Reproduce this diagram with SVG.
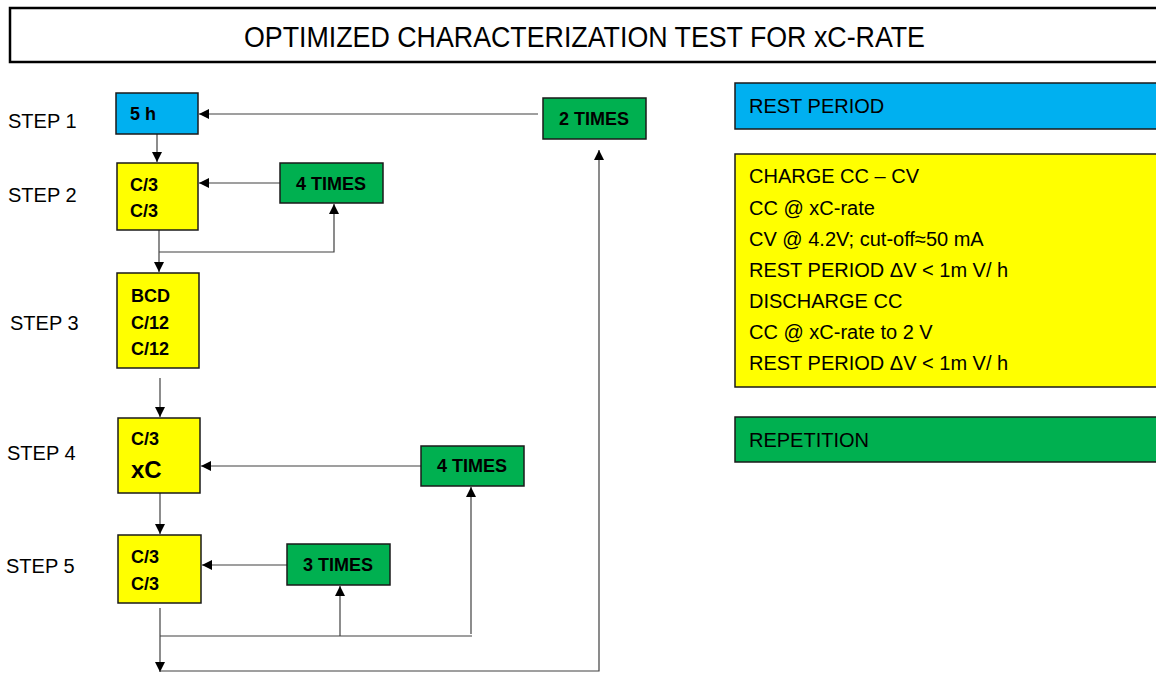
<svg xmlns="http://www.w3.org/2000/svg" width="1156" height="673" viewBox="0 0 1156 673">
<style>
text{font-family:"Liberation Sans",Arial,sans-serif;fill:#000}
.lbl{font-size:20px}
.bx{font-size:18px;font-weight:bold}
.big{font-size:24px}
.leg{font-size:20px}
.box{stroke:#1a1a1a;stroke-width:1.5}
.blue{fill:#00B0F0}.yel{fill:#FFFF00}.grn{fill:#00B050}
.ln{fill:none;stroke:#404040;stroke-width:1.2}
</style>
<defs>
<marker id="ah" viewBox="0 0 10 10" refX="10" refY="5" markerWidth="10" markerHeight="10" markerUnits="userSpaceOnUse" orient="auto">
<path d="M0,0 L10,5 L0,10 Z" fill="#000"/>
</marker>
</defs>
<rect width="1156" height="673" fill="#fff"/>
<g id="title">
<rect x="10" y="8" width="1160" height="54" fill="#fff" stroke="#000" stroke-width="2.5"/>
<text x="244" y="47" font-size="29" textLength="681" lengthAdjust="spacingAndGlyphs">OPTIMIZED CHARACTERIZATION TEST FOR xC-RATE</text>
</g>
<g id="step-labels">
<text class="lbl" x="8" y="128">STEP 1</text>
<text class="lbl" x="8" y="202">STEP 2</text>
<text class="lbl" x="10" y="330">STEP 3</text>
<text class="lbl" x="7" y="460">STEP 4</text>
<text class="lbl" x="6" y="573">STEP 5</text>
</g>
<g id="connectors">
<line class="ln" x1="538" y1="114" x2="199" y2="114" marker-end="url(#ah)"/>
<line class="ln" x1="157" y1="134" x2="157" y2="162" marker-end="url(#ah)"/>
<line class="ln" x1="280" y1="183" x2="199" y2="183" marker-end="url(#ah)"/>
<line class="ln" x1="159" y1="230" x2="159" y2="272" marker-end="url(#ah)"/>
<polyline class="ln" points="159,252 334,252 334,204" marker-end="url(#ah)"/>
<line class="ln" x1="160" y1="378" x2="160" y2="417" marker-end="url(#ah)"/>
<line class="ln" x1="422" y1="466" x2="201" y2="466" marker-end="url(#ah)"/>
<line class="ln" x1="160" y1="493" x2="160" y2="534" marker-end="url(#ah)"/>
<line class="ln" x1="287" y1="565" x2="202" y2="565" marker-end="url(#ah)"/>
<line class="ln" x1="160" y1="608" x2="160" y2="672" marker-end="url(#ah)"/>
<polyline class="ln" points="160,636 472,636"/>
<line class="ln" x1="340" y1="636" x2="340" y2="586" marker-end="url(#ah)"/>
<line class="ln" x1="471" y1="634" x2="471" y2="487" marker-end="url(#ah)"/>
<polyline class="ln" points="160,671 599,671 599,150" marker-end="url(#ah)"/>
</g>
<g id="step1">
<rect class="box blue" x="116" y="93" width="82" height="41"/>
<text class="bx" x="130" y="120">5 h</text>
</g>
<g id="step2">
<rect class="box yel" x="117" y="163" width="81" height="67"/>
<text class="bx" x="130" y="191">C/3</text>
<text class="bx" x="130" y="217">C/3</text>
</g>
<g id="step3">
<rect class="box yel" x="117" y="273" width="82" height="95"/>
<text class="bx" x="131" y="302">BCD</text>
<text class="bx" x="131" y="329">C/12</text>
<text class="bx" x="131" y="355">C/12</text>
</g>
<g id="step4">
<rect class="box yel" x="118" y="418" width="82" height="75"/>
<text class="bx" x="131" y="445">C/3</text>
<text class="bx big" x="131" y="478">xC</text>
</g>
<g id="step5">
<rect class="box yel" x="118" y="535" width="83" height="68"/>
<text class="bx" x="131" y="563">C/3</text>
<text class="bx" x="131" y="590">C/3</text>
</g>
<g id="rep-2times">
<rect class="box grn" x="543" y="98" width="103" height="41"/>
<text class="bx" x="594" y="125" text-anchor="middle">2 TIMES</text>
</g>
<g id="rep-4times-a">
<rect class="box grn" x="280" y="163" width="103" height="40"/>
<text class="bx" x="331" y="190" text-anchor="middle">4 TIMES</text>
</g>
<g id="rep-4times-b">
<rect class="box grn" x="421" y="446" width="103" height="40"/>
<text class="bx" x="472" y="472" text-anchor="middle">4 TIMES</text>
</g>
<g id="rep-3times">
<rect class="box grn" x="287" y="544" width="103" height="41"/>
<text class="bx" x="338" y="571" text-anchor="middle">3 TIMES</text>
</g>
<g id="legend-rest">
<rect class="box blue" x="735" y="83" width="430" height="46"/>
<text class="leg" x="749" y="113">REST PERIOD</text>
</g>
<g id="legend-charge">
<rect class="box yel" x="735" y="154" width="430" height="233"/>
<text class="leg" x="749" y="183">CHARGE CC – CV</text>
<text class="leg" x="749" y="215">CC @ xC-rate</text>
<text class="leg" x="749" y="246">CV @ 4.2V; cut-off≈50 mA</text>
<text class="leg" x="749" y="277">REST PERIOD ΔV &lt; 1m V/ h</text>
<text class="leg" x="749" y="308">DISCHARGE CC</text>
<text class="leg" x="749" y="339">CC @ xC-rate to 2 V</text>
<text class="leg" x="749" y="370">REST PERIOD ΔV &lt; 1m V/ h</text>
</g>
<g id="legend-rep">
<rect class="box grn" x="735" y="417" width="430" height="45"/>
<text class="leg" x="749" y="447">REPETITION</text>
</g>
</svg>
